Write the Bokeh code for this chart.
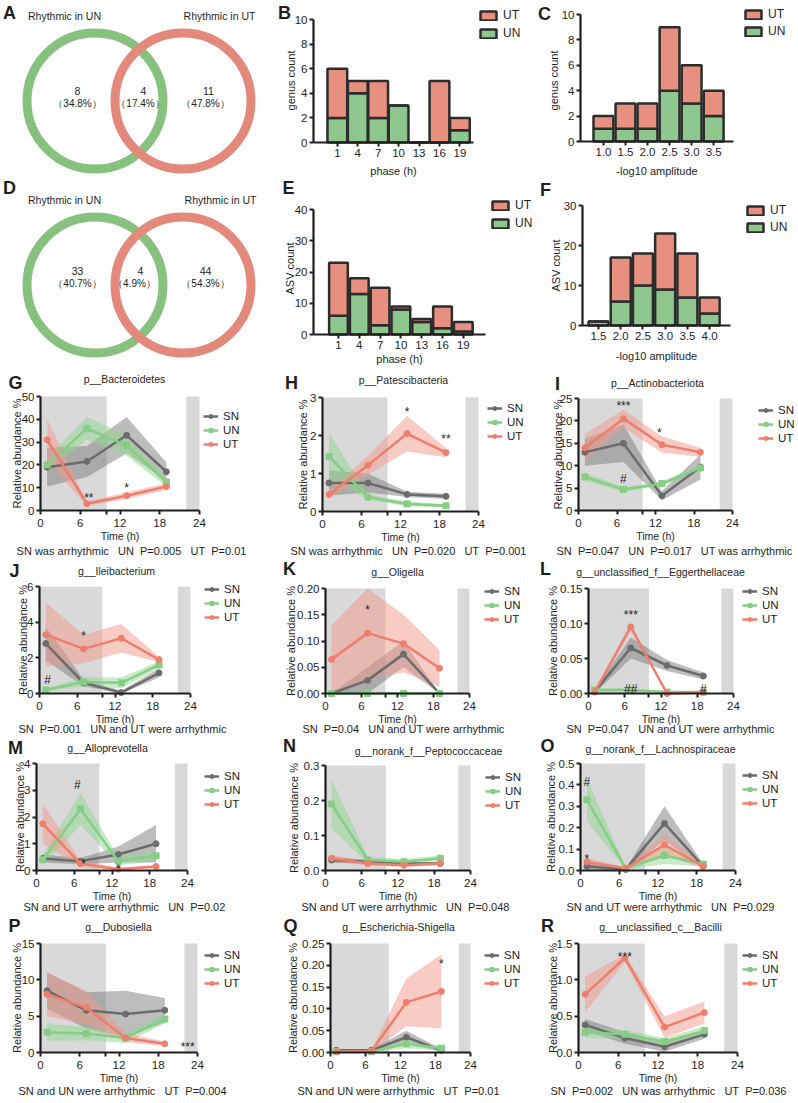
import math
from bokeh.plotting import figure
from bokeh.layouts import row, column
from bokeh.models import (Range1d, FixedTicker, Label, Legend, LegendItem,
                          PrintfTickFormatter, ColumnDataSource)
from bokeh.embed import file_html
from bokeh.resources import INLINE

# ---------------- data ----------------
VENN_A_COUNTS = [8, 4, 11]
VENN_A_PCT = [34.8, 17.4, 47.8]
VENN_D_COUNTS = [33, 4, 44]
VENN_D_PCT = [40.7, 4.9, 54.3]

PHASE = [1, 4, 7, 10, 13, 16, 19]
B_UN = [2, 4, 2, 3, 0, 0, 1]
B_UT = [4, 1, 3, 0, 0, 5, 1]
E_UN = [6, 13, 3, 8, 4, 2, 1]
E_UT = [17, 5, 12, 1, 1, 7, 3]

AMP_C = [1.0, 1.5, 2.0, 2.5, 3.0, 3.5]
C_UN = [1, 1, 1, 4, 3, 2]
C_UT = [1, 2, 2, 5, 3, 2]
AMP_F = [1.5, 2.0, 2.5, 3.0, 3.5, 4.0]
F_UN = [1, 6, 10, 9, 7, 3]
F_UT = [0, 11, 8, 14, 11, 4]

TIME = [1, 7, 13, 19]
TIME_TICKS = [0, 6, 10, 12, 18, 24]
DARK_START = [0, 22]
DARK_END = [10, 24]

G_SN = [19, 21.5, 33, 17];      G_SN_SEM = [8.5, 6.8, 8, 4]
G_UN = [20, 36, 28.5, 12.5];    G_UN_SEM = [3, 5, 4.5, 2]
G_UT = [31, 3, 6.5, 10.5];      G_UT_SEM = [9, 1, 1.5, 1.5]

H_SN = [0.75, 0.75, 0.45, 0.4];   H_SN_SEM = [0.33, 0.25, 0.07, 0.07]
H_UN = [1.45, 0.38, 0.2, 0.15];   H_UN_SEM = [0.62, 0.07, 0.06, 0.04]
H_UT = [0.45, 1.22, 2.05, 1.55];  H_UT_SEM = [0.1, 0.25, 0.47, 0.12]

I_SN = [13, 15, 3.3, 9.7];    I_SN_SEM = [3, 4.2, 1, 2.8]
I_UN = [7.5, 4.7, 6, 9.5];    I_UN_SEM = [0.9, 0.5, 0.4, 0.9]
I_UT = [14, 20.5, 14.7, 13];  I_UT_SEM = [3, 2, 1.8, 1]

J_SN = [2.8, 0.6, 0.05, 1.15];  J_SN_SEM = [0.95, 0.2, 0.1, 0.25]
J_UN = [0.2, 0.65, 0.6, 1.6];   J_UN_SEM = [0.08, 0.25, 0.3, 0.2]
J_UT = [3.3, 2.5, 3.1, 1.9];    J_UT_SEM = [1.8, 0.8, 0.8, 0.15]

K_SN = [0.0, 0.025, 0.075, 0.0];       K_SN_SEM = [0.0, 0.025, 0.025, 0.0]
K_UN = [0.0, 0.0, 0.0, 0.0];           K_UN_SEM = [0.0, 0.0, 0.0, 0.0]
K_UT = [0.065, 0.115, 0.095, 0.048];   K_UT_SEM = [0.065, 0.085, 0.055, 0.035]

L_SN = [0.003, 0.065, 0.04, 0.025];  L_SN_SEM = [0.003, 0.015, 0.008, 0.005]
L_UN = [0.005, 0.005, 0.002, 0.002]; L_UN_SEM = [0.003, 0.002, 0.001, 0.001]
L_UT = [0.002, 0.095, 0.0, 0.002];   L_UT_SEM = [0.001, 0.006, 0.0, 0.001]

M_SN = [0.45, 0.35, 0.6, 1.0];   M_SN_SEM = [0.15, 0.12, 0.3, 0.7]
M_UN = [0.4, 2.3, 0.35, 0.55];   M_UN_SEM = [0.2, 0.6, 0.15, 0.2]
M_UT = [1.75, 0.25, 0.05, 0.15]; M_UT_SEM = [0.75, 0.12, 0.05, 0.05]

N_SN = [0.03, 0.025, 0.02, 0.02];    N_SN_SEM = [0.008, 0.006, 0.004, 0.004]
N_UN = [0.19, 0.03, 0.025, 0.035];   N_UN_SEM = [0.07, 0.01, 0.008, 0.008]
N_UT = [0.035, 0.02, 0.015, 0.02];   N_UT_SEM = [0.01, 0.006, 0.005, 0.005]

O_SN = [0.02, 0.005, 0.22, 0.02];  O_SN_SEM = [0.015, 0.005, 0.08, 0.01]
O_UN = [0.33, 0.01, 0.07, 0.03];   O_UN_SEM = [0.1, 0.005, 0.04, 0.01]
O_UT = [0.04, 0.01, 0.12, 0.02];   O_UT_SEM = [0.02, 0.005, 0.05, 0.01]

P_SN = [8.5, 5.8, 5.3, 5.8];  P_SN_SEM = [2.5, 2.5, 3.2, 1.7]
P_UN = [2.8, 2.6, 2.0, 4.6];  P_UN_SEM = [1.2, 0.9, 0.7, 0.6]
P_UT = [8.0, 6.2, 2.0, 1.2];  P_UT_SEM = [3.0, 2.3, 0.6, 0.3]

Q_SN = [0.005, 0.005, 0.035, 0.005];  Q_SN_SEM = [0.003, 0.003, 0.015, 0.003]
Q_UN = [0.002, 0.002, 0.02, 0.01];    Q_UN_SEM = [0.001, 0.001, 0.01, 0.005]
Q_UT = [0.002, 0.003, 0.115, 0.14];   Q_UT_SEM = [0.002, 0.002, 0.055, 0.085]

R_SN = [0.38, 0.2, 0.08, 0.25];  R_SN_SEM = [0.08, 0.08, 0.07, 0.06]
R_UN = [0.28, 0.25, 0.15, 0.3];  R_UN_SEM = [0.08, 0.06, 0.05, 0.06]
R_UT = [0.8, 1.3, 0.35, 0.55];   R_UT_SEM = [0.25, 0.05, 0.15, 0.15]

# ---------------- style ----------------
FONT = "Liberation Sans"
INK = "#1e1e1e"
SN_C, UN_C, UT_C = "#6c6c6c", "#86cd86", "#ee7e6d"
SN_F, UN_F, UT_F = "#7c7c7c", "#90d690", "#f1998b"
BAR_UT, BAR_UN, BAR_EDGE = "#e8907f", "#8ec78e", "#2c2c2c"
VENN_UN, VENN_UT = "#86c27e", "#e3897b"
SHADE = "#d9d9d9"
NB = "\u00a0"

# layout grid (page pixels)
COLS = [(0, 270), (270, 266), (536, 260)]
ROWS = [(0, 177), (177, 189), (366, 192), (558, 178), (736, 178), (914, 186)]


def box(r, c):
    return (COLS[c][0], ROWS[r][0], COLS[c][1], ROWS[r][1])


def base_fig(bx_, frame, xr, yr):
    bx, by, bw, bh = bx_
    fx0, fx1, fy0, fy1 = frame
    kx = (xr[1] - xr[0]) / (fx1 - fx0)
    ky = (yr[1] - yr[0]) / (fy1 - fy0)

    def X(px):
        return xr[0] + (px - fx0) * kx

    def Y(py):
        return yr[0] + (fy1 - py) * ky
    p = figure(width=bw, height=bh, title=None,
               x_range=Range1d(X(bx), X(bx + bw)), y_range=Range1d(Y(by + bh), Y(by)),
               output_backend="svg", toolbar_location=None, min_border=0)
    p.outline_line_color = None
    p.grid.visible = False
    p.xaxis.fixed_location = yr[0]
    p.yaxis.fixed_location = xr[0]
    p.xaxis.bounds = xr
    p.yaxis.bounds = yr
    return p, X, Y


def txt(p, x, y, s, size=11, bold=False, align="center", baseline="middle", angle=0.0):
    p.add_layout(Label(x=x, y=y, text=s, text_font=FONT, text_font_size=f"{size}px",
                       text_font_style="bold" if bold else "normal",
                       text_align=align, text_baseline=baseline, angle=angle,
                       text_color=INK))


def style_axes(p, xticks, yticks, xfmt=None, yfmt=None, overrides=None):
    for ax in list(p.xaxis) + list(p.yaxis):
        ax.axis_line_width = 2.2
        ax.axis_line_color = INK
        ax.major_tick_line_width = 2
        ax.major_tick_line_color = INK
        ax.major_tick_out = 4
        ax.major_tick_in = 0
        ax.minor_tick_line_color = None
        ax.major_label_text_font = FONT
        ax.major_label_text_font_size = "11.5px"
        ax.major_label_text_color = INK
        ax.major_label_standoff = 2
    p.xaxis.ticker = FixedTicker(ticks=xticks)
    p.yaxis.ticker = FixedTicker(ticks=yticks)
    if xfmt:
        p.xaxis.formatter = PrintfTickFormatter(format=xfmt)
    if yfmt:
        p.yaxis.formatter = PrintfTickFormatter(format=yfmt)
    if overrides:
        p.xaxis.major_label_overrides = overrides


def add_legend(p, items, bx_, swatch_x, first_cy, step, gw, gh, size):
    bx, by, bw, bh = bx_
    n = len(items)
    eh = 14
    spacing = int(round(step - eh))
    height = n * eh + (n - 1) * spacing
    top = first_cy - eh / 2
    leg = Legend(items=items, location=(swatch_x - bx, (by + bh) - top - height),
                 padding=0, margin=0, spacing=spacing, label_height=eh,
                 glyph_height=gh, glyph_width=gw, label_standoff=5,
                 border_line_color=None, background_fill_alpha=0,
                 label_text_font=FONT, label_text_font_size=f"{size}px",
                 label_text_color=INK)
    p.add_layout(leg)


def venn(bx_, letter, title_un, title_ut, centers, counts, pcts, count_xy, pct_xy):
    bx, by, bw, bh = bx_
    p = figure(width=bw, height=bh, title=None, x_range=Range1d(bx, bx + bw),
               y_range=Range1d(-(by + bh), -by), output_backend="svg",
               toolbar_location=None, min_border=0,
               x_axis_location=None, y_axis_location=None)
    p.outline_line_color = None
    p.grid.visible = False
    (cx1, cy), (cx2, _) = centers
    p.circle(x=[cx1], y=[-cy], radius=68, fill_color=None, line_color=VENN_UN, line_width=9)
    p.circle(x=[cx2], y=[-cy], radius=68, fill_color=None, line_color=VENN_UT, line_width=9)
    txt(p, letter[0], -letter[1], letter[2], size=18, bold=True)
    txt(p, title_un[0], -title_un[1], "Rhythmic in UN", size=10.5)
    txt(p, title_ut[0], -title_ut[1], "Rhythmic in UT", size=10.5)
    for c, pc, (x1, y1), (x2, y2) in zip(counts, pcts, count_xy, pct_xy):
        txt(p, x1, -y1, str(c), size=10.5)
        txt(p, x2, -y2, f"\uff08{pc}%\uff09", size=10)
    return p


def bar_panel(bx_, frame, xr, yr, xs, un, ut, width, xticks, yticks, xfmt,
              xlabel, xlabel_y, ylabel, ylabel_xy, letter, letter_xy, leg):
    p, X, Y = base_fig(bx_, frame, xr, yr)
    src = ColumnDataSource(dict(x=xs, UN=un, UT=ut))
    rs = p.vbar_stack(["UN", "UT"], x="x", width=width, source=src,
                      fill_color=[BAR_UN, BAR_UT], line_color=BAR_EDGE, line_width=2.5)
    style_axes(p, xticks, yticks, xfmt=xfmt)
    fx0, fx1, fy0, fy1 = frame
    txt(p, X((fx0 + fx1) / 2), Y(xlabel_y), xlabel, size=11)
    txt(p, X(ylabel_xy[0]), Y(ylabel_xy[1]), ylabel, size=11, angle=math.pi / 2)
    txt(p, X(letter_xy[0]), Y(letter_xy[1]), letter, size=18, bold=True)
    items = [LegendItem(label="UT", renderers=[rs[1]]), LegendItem(label="UN", renderers=[rs[0]])]
    add_legend(p, items, bx_, leg[0], leg[1], leg[2], 20, 11, 12)
    return p


def ts_panel(bx_, frame, ymax, yticks, yfmt, title, title_xy, letter, letter_xy,
             note_s, note_xy, ylabel_x, series, annots, leg):
    p, X, Y = base_fig(bx_, frame, (0, 24), (0, ymax))
    fx0, fx1, fy0, fy1 = frame
    px_unit = ymax / (fy1 - fy0)
    p.quad(left=DARK_START, right=DARK_END, bottom=0, top=ymax,
           fill_color=SHADE, line_color=None)
    styles = {"SN": (SN_C, SN_F, 0.5, "circle"),
              "UN": (UN_C, UN_F, 0.5, "square"),
              "UT": (UT_C, UT_F, 0.5, "circle")}
    for name, mean, sem in series:
        lc, fc, fa, mk = styles[name]
        lo = [max(0.0, m - s) for m, s in zip(mean, sem)]
        hi = [m + s for m, s in zip(mean, sem)]
        p.varea(x=TIME, y1=lo, y2=hi, fill_color=fc, fill_alpha=fa)
    items = []
    for name, mean, sem in series:
        lc, fc, fa, mk = styles[name]
        rl = p.line(TIME, mean, line_color=lc, line_width=2.5)
        rm = p.scatter(TIME, mean, marker=mk, size=6, fill_color=lc, line_color=lc)
        items.append(LegendItem(label=name, renderers=[rl, rm]))
    style_axes(p, TIME_TICKS, yticks, yfmt=yfmt, overrides={10: " "})
    txt(p, X((fx0 + fx1) / 2), Y(fy1 + 25), "Time (h)", size=10.5)
    txt(p, X(title_xy[0]), Y(title_xy[1]), title, size=10.5)
    txt(p, X(letter_xy[0]), Y(letter_xy[1]), letter, size=18, bold=True)
    txt(p, X(note_xy[0]), Y(note_xy[1]), note_s, size=11)
    txt(p, X(ylabel_x), Y((fy0 + fy1) / 2), "Relative abundance %", size=11, angle=math.pi / 2)
    for s, ax, ay in annots:
        shift = 3 * px_unit if s.startswith("*") else 0
        txt(p, ax, ay - shift, s, size=12)
    add_legend(p, items, bx_, leg[0], leg[1], leg[2], 15, 10, 11.5)
    return p


def note(*parts):
    return (NB * 3).join(parts)


def pv(group, val):
    return group + NB + NB + "P=" + val


# ---------------- panels ----------------
pA = venn(box(0, 0), (9, 12, "A"), (64, 15), (219, 15),
          [(94.5, 100.5), (182.5, 100.5)], VENN_A_COUNTS, VENN_A_PCT,
          [(77, 90), (143, 90), (208, 90)], [(77, 103), (140, 103), (205, 103)])
pB = bar_panel(box(0, 1), (313, 473, 19, 142), (-2.5, 21), (0, 10),
               PHASE, B_UN, B_UT, 2.9, PHASE, [0, 2, 4, 6, 8, 10], None,
               "phase (h)", 170, "genus count", (290, 80), "B", (284, 12), (478, 15, 18))
pC = bar_panel(box(0, 2), (580, 733, 14, 141), (0.48, 3.95), (0, 10),
               AMP_C, C_UN, C_UT, 0.45, AMP_C, [0, 2, 4, 6, 8, 10], "%.1f",
               "-log10 amplitude", 170, "genus count", (553, 80), "C", (544, 13), (743, 14, 17))

pD = venn(box(1, 0), (9, 187, "D"), (64, 199), (220, 199),
          [(94.5, 284.5), (182.5, 284.5)], VENN_D_COUNTS, VENN_D_PCT,
          [(77, 270), (140, 270), (205, 270)], [(77, 283), (134, 283), (205, 283)])
pE = bar_panel(box(1, 1), (313, 485, 209, 334), (-2.6, 22.2), (0, 40),
               PHASE, E_UN, E_UT, 2.7, PHASE, [0, 10, 20, 30, 40], None,
               "phase (h)", 358, "ASV count", (289, 268), "E", (288, 187), (490, 205, 18))
pF = bar_panel(box(1, 2), (582, 730, 205, 325), (1.14, 4.47), (0, 30),
               AMP_F, F_UN, F_UT, 0.45, AMP_F, [0, 10, 20, 30], "%.1f",
               "-log10 amplitude", 355, "ASV count", (555, 265), "F", (545, 189), (745, 210, 17))

pG = ts_panel(box(2, 0), (40, 199, 396, 510), 50, [0, 10, 20, 30, 40, 50], None,
              "p__Bacteroidetes", (124, 378), "G", (15, 382),
              note("SN was arrhythmic", pv("UN", "0.005"), pv("UT", "0.01")), (131, 550), 16,
              [("SN", G_SN, G_SN_SEM), ("UN", G_UN, G_UN_SEM), ("UT", G_UT, G_UT_SEM)],
              [("**", 7.3, 6.6), ("*", 13, 11)], (203, 416, 14))
pH = ts_panel(box(2, 1), (322, 478, 397, 511), 3, [0, 1, 2, 3], None,
              "p__Patescibacteria", (403, 379), "H", (291, 382),
              note("SN was arrhythmic", pv("UN", "0.020"), pv("UT", "0.001")), (408, 550), 302,
              [("SN", H_SN, H_SN_SEM), ("UN", H_UN, H_UN_SEM), ("UT", H_UT, H_UT_SEM)],
              [("*", 13, 2.7), ("**", 19, 2.0)], (487, 408, 14.5))
pI = ts_panel(box(2, 2), (578, 732, 398, 510), 25, [0, 5, 10, 15, 20, 25], None,
              "p__Actinobacteriota", (657, 382), "I", (557, 383),
              note(pv("SN", "0.047"), pv("UN", "0.017"), "UT was arrhythmic"), (674, 550), 557,
              [("SN", I_SN, I_SN_SEM), ("UN", I_UN, I_UN_SEM), ("UT", I_UT, I_UT_SEM)],
              [("***", 7, 24), ("*", 12.6, 18), ("#", 7, 7.1)], (758, 410, 13.5))

pJ = ts_panel(box(3, 0), (39, 190, 586, 693), 6, [0, 2, 4, 6], None,
              "g__Ileibacterium", (116, 570), "J", (14, 570),
              note(pv("SN", "0.001"), "UN and UT were arrhythmic"), (122, 728), 22,
              [("SN", J_SN, J_SN_SEM), ("UN", J_UN, J_UN_SEM), ("UT", J_UT, J_UT_SEM)],
              [("*", 7, 3.4), ("#", 1.3, 0.75)], (204, 589, 14.5))
pK = ts_panel(box(3, 1), (325, 469, 588, 693), 0.2, [0, 0.05, 0.1, 0.15, 0.2], "%.2f",
              "g__Oligella", (397, 571), "K", (289, 568),
              note(pv("SN", "0.04"), "UN and UT were arrhythmic"), (403, 728), 290,
              [("SN", K_SN, K_SN_SEM), ("UN", K_UN, K_UN_SEM), ("UT", K_UT, K_UT_SEM)],
              [("*", 7, 0.165)], (484, 591, 14.5))
pL = ts_panel(box(3, 2), (588, 733, 588, 693), 0.15, [0, 0.05, 0.1, 0.15], "%.2f",
              "g__unclassified_f__Eggerthellaceae", (660, 571), "L", (545, 568),
              note(pv("SN", "0.047"), "UN and UT were arrhythmic"), (670, 728), 552,
              [("SN", L_SN, L_SN_SEM), ("UN", L_UN, L_UN_SEM), ("UT", L_UT, L_UT_SEM)],
              [("***", 7, 0.116), ("##", 7, 0.007), ("#", 19, 0.007)], (742, 591, 14.5))

pM = ts_panel(box(4, 0), (36, 187, 763, 870), 4, [0, 1, 2, 3, 4], None,
              "g__Alloprevotella", (107, 747), "M", (15, 747),
              note("SN and UT were arrhythmic", pv("UN", "0.02")), (124, 906), 19,
              [("SN", M_SN, M_SN_SEM), ("UN", M_UN, M_UN_SEM), ("UT", M_UT, M_UT_SEM)],
              [("#", 6.5, 3.2), ("*", 7.5, 0.35), ("*", 13, 0.15)], (204, 776, 13.5))
pN = ts_panel(box(4, 1), (325, 470, 765, 870), 0.3, [0, 0.1, 0.2, 0.3], "%.1f",
              "g__norank_f__Peptococcaceae", (428, 750), "N", (289, 745),
              note("SN and UT were arrhythmic", pv("UN", "0.048")), (405, 906), 293,
              [("SN", N_SN, N_SN_SEM), ("UN", N_UN, N_UN_SEM), ("UT", N_UT, N_UT_SEM)],
              [], (485, 777, 14))
pO = ts_panel(box(4, 2), (580, 735, 763, 870), 0.5, [0, 0.1, 0.2, 0.3, 0.4, 0.5], "%.1f",
              "g__norank_f__Lachnospiraceae", (660, 748), "O", (547, 745),
              note("SN and UT were arrhythmic", pv("UN", "0.029")), (670, 906), 550,
              [("SN", O_SN, O_SN_SEM), ("UN", O_UN, O_UN_SEM), ("UT", O_UT, O_UT_SEM)],
              [("#", 1, 0.415), ("*", 1, 0.07)], (742, 775, 14))

pP = ts_panel(box(5, 0), (40, 197, 943, 1052), 15, [0, 5, 10, 15], None,
              "g__Dubosiella", (118, 926), "P", (14, 925),
              note("SN and UN were arrhythmic", pv("UT", "0.004")), (122, 1090), 16,
              [("SN", P_SN, P_SN_SEM), ("UN", P_UN, P_UN_SEM), ("UT", P_UT, P_UT_SEM)],
              [("***", 22.5, 1.2)], (204, 955, 14.5))
pQ = ts_panel(box(5, 1), (330, 470, 943, 1052), 0.25, [0, 0.05, 0.1, 0.15, 0.2, 0.25], "%.2f",
              "g__Escherichia-Shigella", (398, 926), "Q", (290, 925),
              note("SN and UN were arrhythmic", pv("UT", "0.01")), (398, 1090), 292,
              [("SN", Q_SN, Q_SN_SEM), ("UN", Q_UN, Q_UN_SEM), ("UT", Q_UT, Q_UT_SEM)],
              [("*", 19, 0.21)], (484, 955, 14.5))
pR = ts_panel(box(5, 2), (578, 737, 943, 1052), 1.5, [0, 0.5, 1.0, 1.5], "%.1f",
              "g__unclassified_c__Bacilli", (660, 926), "R", (547, 925),
              note(pv("SN", "0.002"), "UN was arrhythmic", pv("UT", "0.036")), (668, 1090), 552,
              [("SN", R_SN, R_SN_SEM), ("UN", R_UN, R_UN_SEM), ("UT", R_UT, R_UT_SEM)],
              [("***", 7, 1.36)], (742, 955, 14.5))

layout = column(row(pA, pB, pC), row(pD, pE, pF), row(pG, pH, pI),
                row(pJ, pK, pL), row(pM, pN, pO), row(pP, pQ, pR))

open("out.html", "w").write(file_html(layout, INLINE))
